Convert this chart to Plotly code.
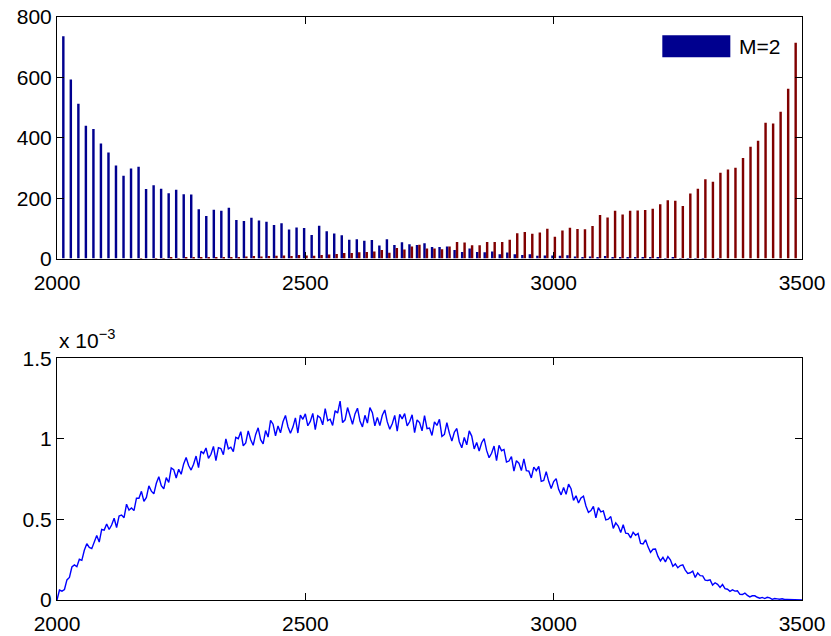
import plotly.graph_objects as go
from plotly.subplots import make_subplots

# ---------------- data: top histogram ----------------
bin_centers = [
    2000.0, 2015.2, 2030.3, 2045.5, 2060.6, 2075.8, 2090.9, 2106.1, 2121.2, 2136.4,
    2151.5, 2166.7, 2181.8, 2197.0, 2212.1, 2227.3, 2242.4, 2257.6, 2272.7, 2287.9,
    2303.0, 2318.2, 2333.3, 2348.5, 2363.6, 2378.8, 2393.9, 2409.1, 2424.2, 2439.4,
    2454.5, 2469.7, 2484.8,
    2500.0, 2515.2, 2530.3, 2545.5, 2560.6, 2575.8, 2590.9, 2606.1, 2621.2, 2636.4,
    2651.5, 2666.7, 2681.8, 2697.0, 2712.1, 2727.3, 2742.4, 2757.6, 2772.7, 2787.9,
    2803.0, 2818.2, 2833.3, 2848.5, 2863.6, 2878.8, 2893.9, 2909.1, 2924.2, 2939.4,
    2954.5, 2969.7, 2984.8,
    3000.0, 3015.2, 3030.3, 3045.5, 3060.6, 3075.8, 3090.9, 3106.1, 3121.2, 3136.4,
    3151.5, 3166.7, 3181.8, 3197.0, 3212.1, 3227.3, 3242.4, 3257.6, 3272.7, 3287.9,
    3303.0, 3318.2, 3333.3, 3348.5, 3363.6, 3378.8, 3393.9, 3409.1, 3424.2, 3439.4,
    3454.5, 3469.7, 3484.8, 3500.0,
]

counts_m2 = [
    475, 736, 593, 513, 440, 429, 381, 351, 308, 274,
    298, 304, 230, 243, 231, 216, 228, 213, 212, 163,
    141, 162, 158, 168, 128, 124, 135, 126, 122, 111,
    117, 96, 103, 101, 78, 109, 90, 83, 77, 62,
    64, 59, 61, 43, 64, 45, 54, 47, 45, 51,
    38, 38, 40, 28, 22, 33, 22, 21, 23, 14,
    20, 14, 12, 14, 9, 10, 10, 9, 11, 7,
    4, 7, 4, 8, 4, 3, 3, 3, 2, 2,
    2, 1, 2, 1, 1, 1, 1, 0, 1, 0,
    0, 0, 0, 0, 0, 0, 0, 0, 0, 0,
]

counts_other = [
    0, 0, 0, 0, 0, 0, 0, 0, 0, 0,
    0, 1, 0, 1, 1, 2, 1, 2, 3, 3,
    2, 4, 3, 5, 4, 7, 8, 7, 8, 9,
    10, 8, 12, 10, 9, 12, 13, 15, 18, 18,
    21, 22, 23, 28, 19, 35, 30, 40, 46, 33,
    33, 31, 40, 55, 53, 44, 44, 55, 55, 55,
    62, 84, 88, 82, 86, 99, 72, 93, 102, 98,
    97, 108, 144, 136, 158, 146, 158, 159, 161, 165,
    180, 193, 191, 174, 215, 231, 263, 254, 284, 295,
    301, 333, 370, 390, 450, 447, 486, 562, 715, 519,
]

top_yticks = [0, 200, 400, 600, 800]
x_ticks = [2000, 2500, 3000, 3500]

# ---------------- data: bottom density (units of 1e-3) ----------------
x_density = list(range(2000, 3501, 5))
density_e3 = [
    0.0, 0.062, 0.055, 0.065, 0.125, 0.14, 0.205, 0.218, 0.207, 0.253,
    0.246, 0.309, 0.35, 0.326, 0.319, 0.355, 0.401, 0.36, 0.438, 0.434,
    0.472, 0.438, 0.466, 0.508, 0.45, 0.521, 0.528, 0.511, 0.595, 0.558,
    0.571, 0.555, 0.632, 0.632, 0.675, 0.612, 0.637, 0.709, 0.676, 0.659,
    0.725, 0.765, 0.71, 0.69, 0.76, 0.73, 0.82, 0.81, 0.758, 0.812,
    0.781, 0.845, 0.885, 0.835, 0.807, 0.843, 0.894, 0.822, 0.924, 0.91,
    0.944, 0.879, 0.905, 0.954, 0.865, 0.946, 0.941, 0.902, 1.0, 0.939,
    0.949, 0.921, 1.01, 1.002, 1.045, 0.957, 0.975, 1.05, 0.995, 0.961,
    1.028, 1.069, 0.996, 0.97, 1.052, 1.012, 1.115, 1.092, 1.02, 1.081,
    1.038, 1.107, 1.146, 1.076, 1.036, 1.074, 1.131, 1.037, 1.148, 1.122,
    1.156, 1.082, 1.109, 1.159, 1.058, 1.144, 1.132, 1.088, 1.188, 1.114,
    1.123, 1.084, 1.176, 1.161, 1.235, 1.102, 1.119, 1.195, 1.134, 1.091,
    1.156, 1.191, 1.112, 1.075, 1.147, 1.099, 1.195, 1.163, 1.082, 1.134,
    1.083, 1.147, 1.18, 1.106, 1.061, 1.095, 1.146, 1.048, 1.153, 1.125,
    1.158, 1.082, 1.107, 1.15, 1.04, 1.118, 1.102, 1.051, 1.145, 1.064,
    1.068, 1.022, 1.106, 1.084, 1.122, 1.016, 1.028, 1.101, 1.036, 0.987,
    1.042, 1.065, 0.983, 0.945, 1.009, 0.964, 1.05, 1.018, 0.938, 0.978,
    0.925, 0.977, 1.002, 0.929, 0.884, 0.911, 0.956, 0.865, 0.961, 0.927,
    0.935, 0.857, 0.863, 0.891, 0.80, 0.865, 0.85, 0.804, 0.876, 0.803,
    0.80, 0.758, 0.825, 0.803, 0.83, 0.737, 0.742, 0.797, 0.737, 0.692,
    0.736, 0.754, 0.687, 0.653, 0.699, 0.656, 0.72, 0.691, 0.619, 0.647,
    0.602, 0.634, 0.645, 0.584, 0.544, 0.555, 0.582, 0.51, 0.574, 0.547,
    0.553, 0.498, 0.502, 0.518, 0.445, 0.479, 0.459, 0.419, 0.467, 0.415,
    0.412, 0.386, 0.421, 0.402, 0.413, 0.351, 0.348, 0.374, 0.33, 0.296,
    0.315, 0.317, 0.271, 0.243, 0.265, 0.237, 0.27, 0.25, 0.209, 0.224,
    0.20, 0.214, 0.218, 0.186, 0.165, 0.169, 0.179, 0.14, 0.168, 0.151,
    0.15, 0.123, 0.121, 0.125, 0.093, 0.107, 0.097, 0.078, 0.096, 0.071,
    0.067, 0.054, 0.063, 0.055, 0.057, 0.035, 0.034, 0.043, 0.029, 0.019,
    0.026, 0.026, 0.017, 0.011, 0.016, 0.009, 0.017, 0.013, 0.004, 0.009,
    0.007, 0.005, 0.008, 0.003, 0.004, 0.003, 0.002, 0.002, 0.001, 0.001,
    0.0,
]
bottom_yticks = [0, 0.5, 1, 1.5]
bottom_yticklabels = ["0", "0.5", "1", "1.5"]

BLUE_BAR = "#00008F"
RED_BAR = "#800000"
FONT = "Liberation Sans, Arial, sans-serif"

fig = make_subplots(rows=2, cols=1, vertical_spacing=0.1714)

fig.add_trace(go.Bar(x=bin_centers, y=counts_m2, name="M=2",
                     marker=dict(color=BLUE_BAR, line=dict(width=0)),
                     showlegend=False), row=1, col=1)
fig.add_trace(go.Bar(x=bin_centers, y=counts_other, name="other",
                     marker=dict(color=RED_BAR, line=dict(width=0)),
                     showlegend=False), row=1, col=1)
fig.add_trace(go.Scatter(x=x_density, y=density_e3, mode="lines",
                         line=dict(color="#0000FF", width=1.4),
                         showlegend=False), row=2, col=1)

axis_common = dict(showline=True, linecolor="black", linewidth=1, mirror="allticks",
                   ticks="inside", ticklen=7, tickcolor="black", tickwidth=1,
                   showgrid=False, zeroline=False, automargin=False,
                   tickfont=dict(family=FONT, size=21, color="black"))

fig.update_xaxes(range=[2000, 3500], tickvals=x_ticks, ticklabelstandoff=5, **axis_common)
fig.update_yaxes(row=1, col=1, range=[0, 800], tickvals=top_yticks, **axis_common)
fig.update_yaxes(row=2, col=1, range=[0, 1.5], tickvals=bottom_yticks,
                 ticktext=bottom_yticklabels, **axis_common)
fig.update_yaxes(domain=[0.5857, 1.0], row=1, col=1)
fig.update_yaxes(domain=[0.0, 0.4143], row=2, col=1)
fig.update_xaxes(domain=[0.0, 1.0])

# legend patch (MATLAB style wide rectangle) and label
fig.add_shape(type="rect", xref="x domain", yref="y domain",
              x0=0.8125, x1=0.9038, y0=0.833, y1=0.924,
              fillcolor=BLUE_BAR, line=dict(width=0))
fig.add_annotation(xref="x domain", yref="y domain", x=0.913, y=0.879,
                   text="M=2", showarrow=False, xanchor="left", yanchor="middle",
                   font=dict(family=FONT, size=21, color="black"))

# exponent label of bottom axis
fig.add_annotation(xref="paper", yref="paper", x=0.0, y=0.422,
                   text="x 10<sup>\u22123</sup>", showarrow=False,
                   xanchor="left", yanchor="bottom",
                   font=dict(family=FONT, size=21, color="black"))

fig.update_layout(width=831, height=636,
                  margin=dict(l=57, r=29, t=17, b=36, autoexpand=False),
                  barmode="group", bargap=0.35, bargroupgap=0.0,
                  plot_bgcolor="white", paper_bgcolor="white",
                  font=dict(family=FONT, size=21, color="black"))

fig.write_html("out.html", config={"displayModeBar": False},
               post_script="document.body.style.margin='0';document.body.style.overflow='hidden';")
